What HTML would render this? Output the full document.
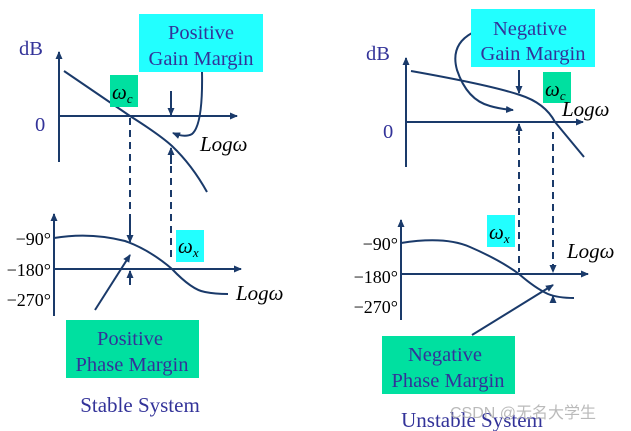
<!DOCTYPE html>
<html><head><style>body{margin:0;background:#fff}svg{display:block}</style></head><body>
<svg width="631" height="431" viewBox="0 0 631 431" xmlns="http://www.w3.org/2000/svg" font-family="Liberation Serif, serif">
<defs><marker id="a" markerWidth="8" markerHeight="8" refX="7" refY="4" orient="auto" markerUnits="userSpaceOnUse"><path d="M0,0.5 L8,4 L0,7.5 Z" fill="#1a3a6a"/></marker></defs>
<g stroke="#1a3a6a" stroke-width="2" fill="none">
<line x1="59" y1="162" x2="59" y2="52" marker-end="url(#a)"/>
<line x1="59" y1="116" x2="237" y2="116" marker-end="url(#a)"/>
<path d="M64,71 L130,116 Q160,135 172,146 Q192,165 207,192"/>
<line x1="171" y1="91" x2="171" y2="115" marker-end="url(#a)"/>
<line x1="171" y1="164" x2="171" y2="148" marker-end="url(#a)"/>
<path d="M202,72 Q203,125 192,134 Q185,138 173,133" marker-end="url(#a)"/>
<line x1="130" y1="118" x2="130" y2="232" stroke-dasharray="7,5"/>
<line x1="171" y1="166" x2="171" y2="262" stroke-dasharray="7,5"/>
<line x1="54" y1="316" x2="54" y2="214" marker-end="url(#a)"/>
<line x1="54" y1="269" x2="241" y2="269" marker-end="url(#a)"/>
<path d="M54,238 Q90,232 125,241 Q150,250 172,269 Q192,290 205,292 Q215,294 228,294"/>
<line x1="130" y1="220" x2="130" y2="242" marker-end="url(#a)"/>
<line x1="130" y1="285" x2="130" y2="271" marker-end="url(#a)"/>
<line x1="95" y1="310" x2="130" y2="255" marker-end="url(#a)"/>
<line x1="406" y1="167" x2="406" y2="58" marker-end="url(#a)"/>
<line x1="406" y1="122" x2="583" y2="122" marker-end="url(#a)"/>
<path d="M411,71 Q490,85 520,95 Q545,103 555,122 L584,157"/>
<line x1="519" y1="70" x2="519" y2="93" marker-end="url(#a)"/>
<line x1="519" y1="135" x2="519" y2="124" marker-end="url(#a)"/>
<path d="M472,33 Q450,45 457,70 Q467,100 490,106 Q500,109 513,110" marker-end="url(#a)"/>
<line x1="519" y1="136" x2="519" y2="272" stroke-dasharray="7,5"/>
<line x1="553" y1="132" x2="553" y2="272" marker-end="url(#a)" stroke-dasharray="7,5"/>
<line x1="401" y1="320" x2="401" y2="220" marker-end="url(#a)"/>
<line x1="401" y1="274" x2="588" y2="274" marker-end="url(#a)"/>
<path d="M401,243 Q445,236 470,247 Q500,260 519,274 Q535,288 548,294 Q558,298 574,298"/>
<line x1="553" y1="302" x2="553" y2="296" marker-end="url(#a)"/>
<line x1="472" y1="335" x2="553" y2="285" marker-end="url(#a)"/>
</g>
<g fill="#333399" font-size="20.5">
<rect x="139" y="14" width="124" height="58" fill="#22ffff"/>
<text x="201" y="39" text-anchor="middle">Positive</text>
<text x="201" y="65" text-anchor="middle">Gain Margin</text>
<text x="19" y="55">dB</text>
<text x="35" y="131">0</text>
<rect x="66" y="320" width="133" height="58" fill="#00e0a0"/>
<text x="130" y="345" text-anchor="middle">Positive</text>
<text x="132" y="371" text-anchor="middle">Phase Margin</text>
<text x="140" y="412" text-anchor="middle" font-size="21">Stable System</text>
<rect x="471" y="9" width="124" height="58" fill="#22ffff"/>
<text x="530" y="35" text-anchor="middle">Negative</text>
<text x="533" y="60" text-anchor="middle">Gain Margin</text>
<text x="366" y="60">dB</text>
<text x="383" y="138">0</text>
<rect x="382" y="336" width="133" height="58" fill="#00e0a0"/>
<text x="445" y="361" text-anchor="middle">Negative</text>
<text x="448" y="387" text-anchor="middle">Phase Margin</text>
<text x="472" y="427" text-anchor="middle" font-size="21">Unstable System</text>
</g>
<rect x="110" y="75" width="28" height="32" fill="#00e0a0"/>
<rect x="176" y="230" width="28" height="32" fill="#22ffff"/>
<rect x="543" y="72" width="28" height="31" fill="#00e0a0"/>
<rect x="487" y="215" width="28" height="32" fill="#22ffff"/>
<g fill="#000" font-style="italic" font-size="21">
<text x="112" y="99">ω<tspan font-size="13" dy="4">c</tspan></text>
<text x="178" y="253">ω<tspan font-size="13" dy="4">x</tspan></text>
<text x="545" y="96">ω<tspan font-size="13" dy="4">c</tspan></text>
<text x="489" y="239">ω<tspan font-size="13" dy="4">x</tspan></text>
<text x="200" y="151">Logω</text>
<text x="236" y="300">Logω</text>
<text x="562" y="116">Logω</text>
<text x="567" y="258">Logω</text>
</g>
<g fill="#000" font-size="18" text-anchor="end">
<text x="51" y="245">−90°</text>
<text x="51" y="276">−180°</text>
<text x="51" y="306">−270°</text>
<text x="398" y="250">−90°</text>
<text x="398" y="283">−180°</text>
<text x="398" y="313">−270°</text>
</g>
<text x="450" y="418" fill="#aaa" font-family="Liberation Sans, Noto Sans CJK SC, sans-serif" font-size="16" opacity="0.8">CSDN @无名大学生</text>
</svg>
</body></html>
